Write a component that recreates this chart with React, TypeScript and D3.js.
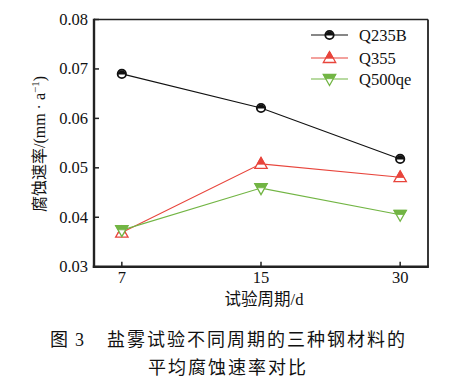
import React from "react";
import * as d3 from "d3";

const periods = ["7", "15", "30"];
const seriesNames = ["Q235B", "Q355", "Q500qe"];
const q235b = [0.069, 0.0621, 0.0518];
const q355 = [0.0369, 0.0508, 0.0481];
const q500qe = [0.0374, 0.0459, 0.0405];
const colors = ["#111111", "#e8453c", "#72b544"];
const yTicks = [0.03, 0.04, 0.05, 0.06, 0.07, 0.08];

const LATIN = "'Liberation Serif', 'DejaVu Serif', serif";
const CJK = "'Noto Sans CJK SC', sans-serif";

function Marker({ kind, x, y, color }: { kind: number; x: number; y: number; color: string }) {
  if (kind === 0) {
    const r = 4.2;
    return (
      <g transform={`translate(${x},${y})`}>
        <circle r={r} fill="#fff" stroke={color} strokeWidth={1.8} />
        <path d={`M${-r},0.6 A${r},${r} 0 0 1 ${r},0.6 Z`} fill={color} />
      </g>
    );
  }
  if (kind === 1) {
    const a = 6.5, b = 4.5, hw = 6.2;
    const yc = 0.3;
    const t = (yc + a) / (a + b);
    const w = hw * t;
    return (
      <g transform={`translate(${x},${y})`}>
        <path d={`M0,${-a} L${hw},${b} L${-hw},${b} Z`} fill="#fff" stroke={color} strokeWidth={1.3} />
        <path d={`M0,${-a} L${w},${yc} L${-w},${yc} Z`} fill={color} stroke={color} strokeWidth={0.8} />
      </g>
    );
  }
  const a = 6.5, b = 4.5, hw = 6.2;
  const yc = -0.3;
  const w = hw * (1 - (b + yc) / (a + b));
  return (
    <g transform={`translate(${x},${y})`}>
      <path d={`M0,${a} L${hw},${-b} L${-hw},${-b} Z`} fill="#fff" stroke={color} strokeWidth={1.3} />
      <path d={`M${-hw},${-b} L${hw},${-b} L${w},${yc} L${-w},${yc} Z`} fill={color} stroke={color} strokeWidth={0.8} />
    </g>
  );
}

export default function App() {
  const left = 94, right = 428, top = 19.5, bottom = 266.7;
  const x = d3.scalePoint<string>().domain(periods).range([left, right]).padding(0.2);
  const y = d3.scaleLinear().domain([0.03, 0.08]).range([bottom, top]);
  const data = [q235b, q355, q500qe];
  const line = d3
    .line<number>()
    .x((_, i) => x(periods[i]) as number)
    .y((d) => y(d));
  const legendY = [35, 58, 79];
  const latin = { fontFamily: LATIN } as React.CSSProperties;
  const cjk = { fontFamily: CJK } as React.CSSProperties;

  return (
    <svg width={453} height={386} style={{ position: "absolute", left: 0, top: 0, background: "#fff" }}>
      <rect width={453} height={386} fill="#fff" />
      {data.map((s, k) => (
        <path key={k} d={line(s) || ""} fill="none" stroke={colors[k]} strokeWidth={1.1} />
      ))}
      {data.map((s, k) =>
        s.map((v, i) => <Marker key={`${k}-${i}`} kind={k} x={x(periods[i]) as number} y={y(v)} color={colors[k]} />)
      )}
      <line x1={left} x2={right} y1={top} y2={top} stroke="#222" strokeWidth={1.6} />
      <line x1={right} x2={right} y1={top} y2={bottom} stroke="#222" strokeWidth={1.8} />
      <line x1={left} x2={left} y1={top - 0.8} y2={bottom + 1.2} stroke="#222" strokeWidth={2.4} />
      <line x1={left - 1.2} x2={right + 0.9} y1={bottom} y2={bottom} stroke="#222" strokeWidth={2.4} />
      {yTicks.map((t) => (
        <g key={t}>
          <line x1={left} x2={left + 5} y1={y(t)} y2={y(t)} stroke="#222" strokeWidth={1.5} />
          <text x={88} y={y(t)} dy="0.33em" textAnchor="end" style={latin} fontSize={16.5} fill="#111">
            {t.toFixed(2)}
          </text>
        </g>
      ))}
      {periods.map((p) => (
        <g key={p}>
          <line x1={x(p) as number} x2={x(p) as number} y1={bottom} y2={bottom - 5} stroke="#222" strokeWidth={1.5} />
          <text x={x(p) as number} y={283} textAnchor="middle" style={latin} fontSize={16.5} fill="#111">
            {p}
          </text>
        </g>
      ))}
      <text x={264} y={305} textAnchor="middle" style={latin} fontSize={16.5} fill="#111">
        <tspan style={cjk}>试验周期</tspan>/d
      </text>
      <text transform={`translate(45,144) rotate(-90)`} textAnchor="middle" style={latin} fontSize={16} fill="#111">
        <tspan style={cjk}>腐蚀速率</tspan>/(mm · a
        <tspan fontSize={11} dy={-6}>−1</tspan>
        <tspan dy={6}>)</tspan>
      </text>
      {seriesNames.map((n, k) => (
        <g key={n}>
          <line x1={311} x2={348} y1={legendY[k]} y2={legendY[k]} stroke={colors[k]} strokeWidth={1.1} />
          <Marker kind={k} x={329.5} y={legendY[k]} color={colors[k]} />
          <text x={359} y={legendY[k]} dy="0.35em" style={latin} fontSize={16.5} fill="#111">
            {n}
          </text>
        </g>
      ))}
      <text x={50} y={346} style={latin} fontSize={18} fill="#111">
        <tspan style={cjk}>图</tspan>
        <tspan dx={7}>3</tspan>
      </text>
      <text x={107} y={346} style={cjk} fontSize={18} letterSpacing={2} fill="#111">
        盐雾试验不同周期的三种钢材料的
      </text>
      <text x={148} y={374} style={cjk} fontSize={18} letterSpacing={2} fill="#111">
        平均腐蚀速率对比
      </text>
    </svg>
  );
}
